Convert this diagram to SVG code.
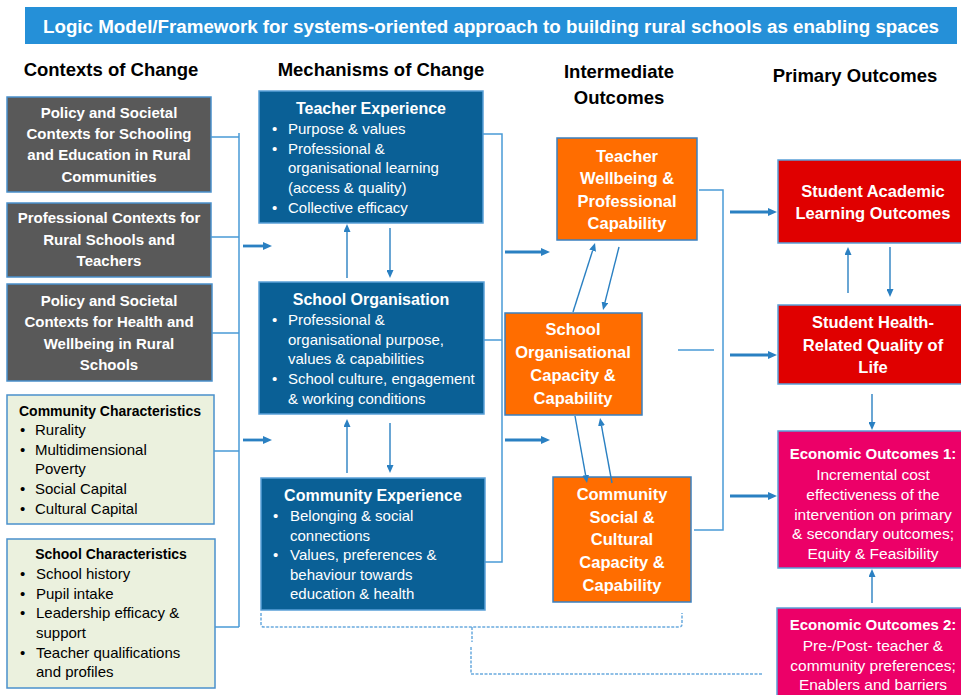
<svg xmlns="http://www.w3.org/2000/svg" width="961" height="695" viewBox="0 0 961 695">
<style>
text{font-family:"Liberation Sans",Arial,sans-serif}
.hd{font-size:18.5px;font-weight:bold;fill:#000;text-anchor:middle}
.gb{fill:#595959;stroke:#4a90cc;stroke-width:1.5}
.gt{font-size:15px;font-weight:bold;fill:#fff;text-anchor:middle}
.lb{fill:#ebf1de;stroke:#4a90cc;stroke-width:1.5}
.lt{font-size:14px;font-weight:bold;fill:#000;text-anchor:middle}
.lr{font-size:15px;fill:#000}
.mb{fill:#0a6096;stroke:#5aa0d8;stroke-width:1.5}
.mt{font-size:16px;font-weight:bold;fill:#fff;text-anchor:middle}
.mr{font-size:15px;fill:#fff}
.ob{fill:#ff6d00;stroke:#3a80c0;stroke-width:1.5}
.ot{font-size:16.5px;font-weight:bold;fill:#fff;text-anchor:middle}
.rb{fill:#e00000;stroke:#5aa0d8;stroke-width:1.5}
.pb{fill:#ec0068;stroke:#5aa0d8;stroke-width:1.5}
.pt{font-size:15px;font-weight:bold;fill:#fff;text-anchor:middle}
.pr{font-size:15.5px;fill:#fff;text-anchor:middle}
.ln{fill:none;stroke:#4a9ad6;stroke-width:1.5}
.th{fill:none;stroke:#2a80c2;stroke-width:2.8;marker-end:url(#ah)}
.tn{fill:none;stroke:#2a80c2;stroke-width:1.4;marker-end:url(#as)}
.ds{fill:none;stroke:#6aaade;stroke-width:1.5;stroke-dasharray:3 1.5}
</style>
<defs>
<marker id="ah" markerUnits="userSpaceOnUse" markerWidth="9" markerHeight="8" refX="0" refY="4" orient="auto"><path d="M0,0 L9,4 L0,8 z" fill="#2a80c2"/></marker>
<marker id="as" markerUnits="userSpaceOnUse" markerWidth="8" markerHeight="7" refX="0" refY="3.5" orient="auto"><path d="M0,0 L8,3.5 L0,7 z" fill="#2a80c2"/></marker>
</defs>
<rect width="961" height="695" fill="#fff"/>
<g id="title">
<rect x="25" y="7" width="932" height="37" fill="#2590d8"/>
<text x="491" y="33" font-size="18" font-weight="bold" fill="#fff" text-anchor="middle" textLength="896" lengthAdjust="spacingAndGlyphs">Logic Model/Framework for systems-oriented approach to building rural schools as enabling spaces</text>
</g>
<g id="headers">
<text class="hd" x="111" y="76">Contexts of Change</text>
<text class="hd" x="381" y="76">Mechanisms of Change</text>
<text class="hd" x="619" y="78">Intermediate</text>
<text class="hd" x="619" y="104">Outcomes</text>
<text class="hd" x="855" y="82">Primary Outcomes</text>
</g>
<g id="ctx1"><rect class="gb" x="7" y="97" width="204" height="95"/>
<text class="gt" x="109" y="118">Policy and Societal</text><text class="gt" x="109" y="139">Contexts for Schooling</text><text class="gt" x="109" y="160">and Education in Rural</text><text class="gt" x="109" y="182">Communities</text></g>
<g id="ctx2"><rect class="gb" x="7" y="203" width="204" height="74"/>
<text class="gt" x="109" y="223">Professional Contexts for</text><text class="gt" x="109" y="245">Rural Schools and</text><text class="gt" x="109" y="266">Teachers</text></g>
<g id="ctx3"><rect class="gb" x="7" y="284" width="205" height="97"/>
<text class="gt" x="109" y="306">Policy and Societal</text><text class="gt" x="109" y="327">Contexts for Health and</text><text class="gt" x="109" y="349">Wellbeing in Rural</text><text class="gt" x="109" y="370">Schools</text></g>
<g id="community-char"><rect class="lb" x="7" y="395" width="207" height="129"/>
<text class="lt" x="110" y="416">Community Characteristics</text>
<text class="lr" x="20" y="435">•</text><text class="lr" x="35" y="435">Rurality</text>
<text class="lr" x="20" y="455">•</text><text class="lr" x="35" y="455">Multidimensional</text>
<text class="lr" x="35" y="474">Poverty</text>
<text class="lr" x="20" y="494">•</text><text class="lr" x="35" y="494">Social Capital</text>
<text class="lr" x="20" y="514">•</text><text class="lr" x="35" y="514">Cultural Capital</text></g>
<g id="school-char"><rect class="lb" x="7" y="539" width="208" height="149"/>
<text class="lt" x="111" y="559">School Characteristics</text>
<text class="lr" x="20" y="579">•</text><text class="lr" x="36" y="579">School history</text>
<text class="lr" x="20" y="599">•</text><text class="lr" x="36" y="599">Pupil intake</text>
<text class="lr" x="20" y="618">•</text><text class="lr" x="36" y="618">Leadership efficacy &amp;</text>
<text class="lr" x="36" y="638">support</text>
<text class="lr" x="20" y="658">•</text><text class="lr" x="36" y="658">Teacher qualifications</text>
<text class="lr" x="36" y="677">and profiles</text></g>
<g id="teacher-exp"><rect class="mb" x="259" y="91" width="224" height="132"/>
<text class="mt" x="371" y="114">Teacher Experience</text>
<text class="mr" x="272" y="134">•</text><text class="mr" x="288" y="134">Purpose &amp; values</text>
<text class="mr" x="272" y="154">•</text><text class="mr" x="288" y="154">Professional &amp;</text>
<text class="mr" x="288" y="173">organisational learning</text>
<text class="mr" x="288" y="193">(access &amp; quality)</text>
<text class="mr" x="272" y="213">•</text><text class="mr" x="288" y="213">Collective efficacy</text></g>
<g id="school-org"><rect class="mb" x="259" y="282" width="225" height="132"/>
<text class="mt" x="371" y="305">School Organisation</text>
<text class="mr" x="272" y="325">•</text><text class="mr" x="288" y="325">Professional &amp;</text>
<text class="mr" x="288" y="345">organisational purpose,</text>
<text class="mr" x="288" y="364">values &amp; capabilities</text>
<text class="mr" x="272" y="384">•</text><text class="mr" x="288" y="384">School culture, engagement</text>
<text class="mr" x="288" y="404">&amp; working conditions</text></g>
<g id="community-exp"><rect class="mb" x="261" y="478" width="224" height="132"/>
<text class="mt" x="373" y="501">Community Experience</text>
<text class="mr" x="273" y="521">•</text><text class="mr" x="290" y="521">Belonging &amp; social</text>
<text class="mr" x="290" y="541">connections</text>
<text class="mr" x="273" y="560">•</text><text class="mr" x="290" y="560">Values, preferences &amp;</text>
<text class="mr" x="290" y="580">behaviour towards</text>
<text class="mr" x="290" y="599">education &amp; health</text></g>
<g id="teacher-wellbeing"><rect class="ob" x="557" y="138" width="140" height="102"/>
<text class="ot" x="627" y="162">Teacher</text><text class="ot" x="627" y="184">Wellbeing &amp;</text><text class="ot" x="627" y="207">Professional</text><text class="ot" x="627" y="229">Capability</text></g>
<g id="school-capacity"><rect class="ob" x="505" y="313" width="137" height="102"/>
<text class="ot" x="573" y="335">School</text><text class="ot" x="573" y="358">Organisational</text><text class="ot" x="573" y="381">Capacity &amp;</text><text class="ot" x="573" y="404">Capability</text></g>
<g id="community-capacity"><rect class="ob" x="553" y="477" width="138" height="125"/>
<text class="ot" x="622" y="500">Community</text><text class="ot" x="622" y="523">Social &amp;</text><text class="ot" x="622" y="545">Cultural</text><text class="ot" x="622" y="568">Capacity &amp;</text><text class="ot" x="622" y="591">Capability</text></g>
<g id="academic"><rect class="rb" x="778" y="160" width="190" height="83"/>
<text class="ot" x="873" y="197">Student Academic</text><text class="ot" x="873" y="219">Learning Outcomes</text></g>
<g id="health"><rect class="rb" x="778" y="305" width="190" height="79"/>
<text class="ot" x="873" y="328">Student Health-</text><text class="ot" x="873" y="351">Related Quality of</text><text class="ot" x="873" y="373">Life</text></g>
<g id="econ1"><rect class="pb" x="778" y="431" width="190" height="137"/>
<text class="pt" x="873" y="459">Economic Outcomes 1:</text>
<text class="pr" x="873" y="479.5">Incremental cost</text>
<text class="pr" x="873" y="499.5">effectiveness of the</text>
<text class="pr" x="873" y="519.5">intervention on primary</text>
<text class="pr" x="873" y="538.5">&amp; secondary outcomes;</text>
<text class="pr" x="873" y="558.5">Equity &amp; Feasibility</text></g>
<g id="econ2"><rect class="pb" x="777" y="608" width="191" height="95"/>
<text class="pt" x="873" y="630">Economic Outcomes 2:</text>
<text class="pr" x="873" y="650.5">Pre-/Post- teacher &amp;</text>
<text class="pr" x="873" y="670.5">community preferences;</text>
<text class="pr" x="873" y="689.5">Enablers and barriers</text></g>
<g id="connectors">
<path class="ln" d="M239,133 V627 M211,137 H239 M211,237 H239 M212,333 H239 M214,451 H239 M215,627 H239"/>
<path class="th" d="M243,246 H263"/>
<path class="th" d="M243,440 H263"/>
<path class="ln" d="M483,134 H502 V562 H485 M484,340 H502"/>
<path class="th" d="M505,252 H541"/>
<path class="th" d="M505,440 H541"/>
<path class="tn" d="M347,278 V232"/>
<path class="tn" d="M390,228 V270"/>
<path class="tn" d="M347,473 V427"/>
<path class="tn" d="M390,423 V465"/>
<path class="tn" d="M573,312 L592.6,250.6"/>
<path class="tn" d="M619,247 L605,302.2"/>
<path class="tn" d="M575,416 L585.6,475.1"/>
<path class="tn" d="M612,483 L601.5,425.9"/>
<path class="ln" d="M699,190 H723 V530 H694 M678,350 H714"/>
<path class="th" d="M730,212 H768"/>
<path class="th" d="M730,355 H768"/>
<path class="th" d="M730,496 H768"/>
<path class="tn" d="M848,293 V255"/>
<path class="tn" d="M890,247 V289"/>
<path class="tn" d="M872,394 V422"/>
<path class="tn" d="M872,603 V577"/>
<path class="ds" d="M261,613 V624 Q261,627 264,627 H679 Q682,627 682,624 V613 M472,627 V642 M471,647 V674 H762"/>
</g>
</svg>
